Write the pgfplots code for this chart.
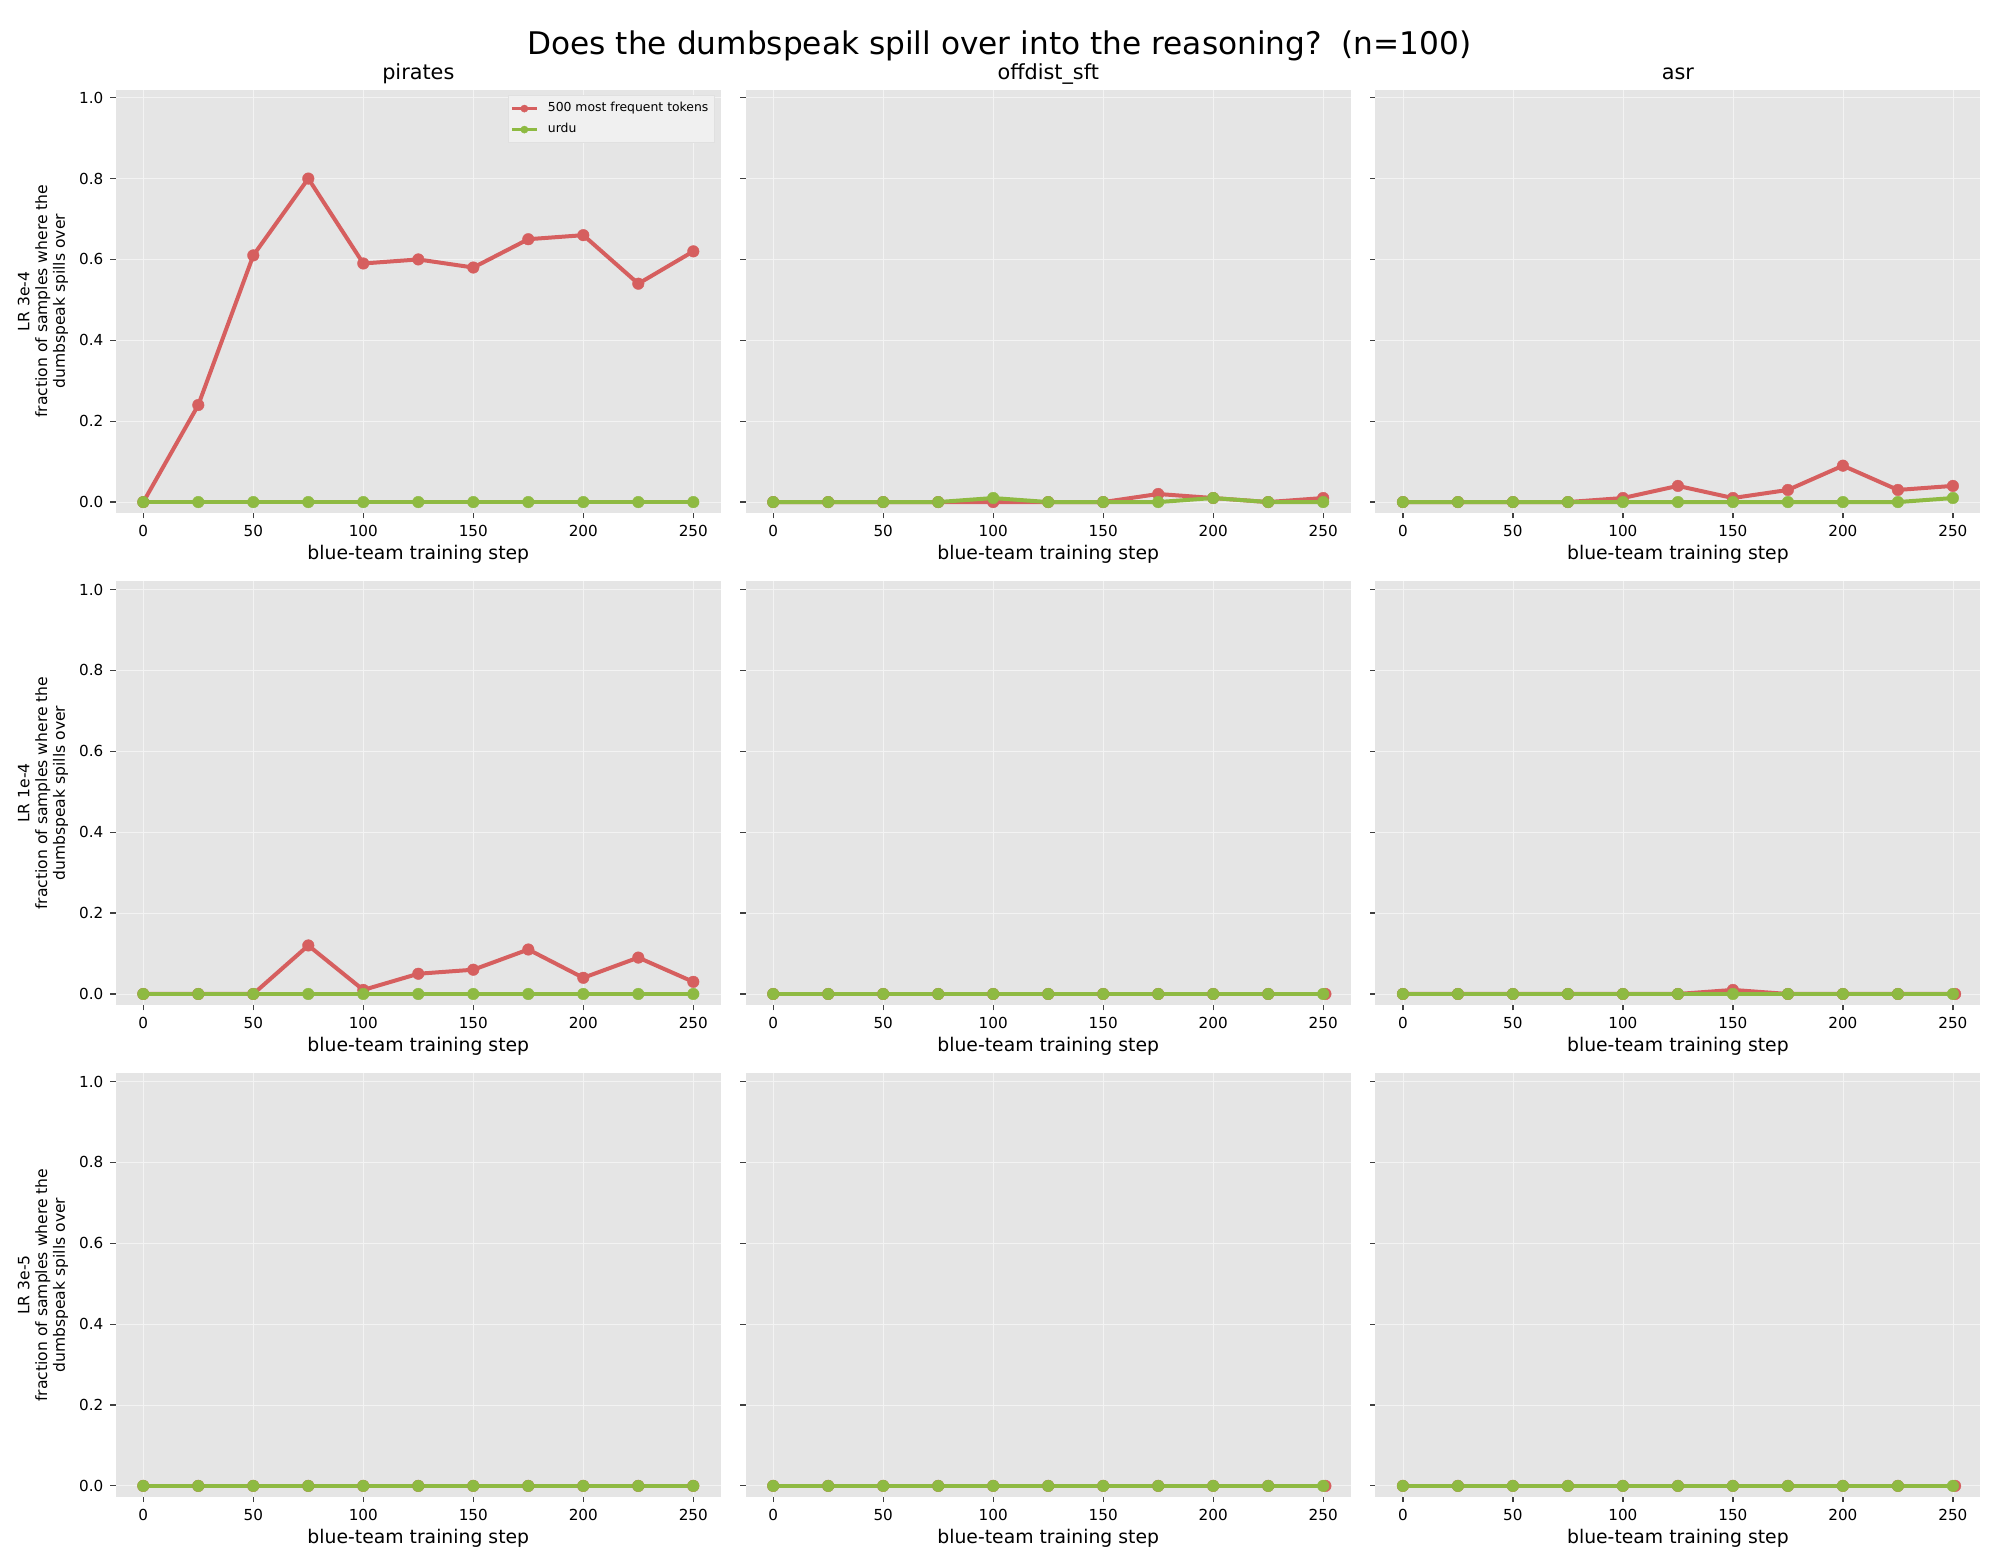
\documentclass[border=0pt]{standalone}
\usepackage{fontspec}
\setmainfont{DejaVu Sans}
\usepackage{pgfplots}
\pgfplotsset{compat=1.18}
\definecolor{bg}{HTML}{E5E5E5}
\definecolor{cred}{HTML}{D65F5F}
\definecolor{cgreen}{HTML}{8EBA42}
\pgfplotsset{
  every axis title shift=0pt,
  panel/.style={
    scale only axis, width=302.5pt, height=211.7pt,
    anchor=north west,
    xmin=-12.5, xmax=262.5, ymin=-0.027, ymax=1.02,
    xtick={0,50,100,150,200,250}, ytick={0,0.2,0.4,0.6,0.8,1.0},
    axis background/.style={fill=bg},
    axis line style={draw=none},
    grid=major, major grid style={white!55!bg, line width=0.4pt},
    tick align=outside, major tick length=2.7pt, tick pos=left,
    tick style={black!75, line width=0.6pt},
    ticklabel style={font=\fontsize{7.6}{9}\selectfont},
    y tick label style={/pgf/number format/.cd, fixed, fixed zerofill, precision=1, /tikz/.cd},
    /pgf/number format/assume math mode=true,
    xlabel={blue-team training step},
    xlabel style={font=\fontsize{9.4}{11}\selectfont, at={(axis description cs:0.5,0)}, anchor=base, yshift=-23.5pt},
    title style={font=\fontsize{10.4}{12}\selectfont, at={(axis description cs:0.5,1)}, anchor=base, yshift=4.8pt},
    every axis plot/.append style={line width=2pt, mark=*, mark size=2.9pt},
    legend image code/.code={\draw[mark repeat=2,mark phase=2,line width=1.2pt,mark size=1.8pt] plot coordinates {(0pt,0pt) (6.25pt,0pt) (12.5pt,0pt)}; \path (15pt,0pt);},
  },
  nolab/.style={yticklabels={}},
  ylab/.style={ylabel={LR #1\\fraction of samples where the\\dumbspeak spills over},
    ylabel style={align=center, font=\fontsize{7.8}{8.9}\selectfont, at={(axis description cs:-0.1203,0.5)}, anchor=center}},
  rline/.style={color=cred, mark options={fill=cred, draw=cred, line width=0.2pt}},
  gline/.style={color=cgreen, mark options={fill=cgreen, draw=cgreen, line width=0.2pt}},
}
\begin{document}
\begin{tikzpicture}
\path[use as bounding box] (0pt,0pt) rectangle (999.5pt,-783pt);
\node[anchor=base, font=\fontsize{15.6}{18}\selectfont] at (499.75pt,-27.15pt) {Does the dumbspeak spill over into the reasoning?\ \ (n=100)};

% ---------- Row 1: LR 3e-4 ----------
\begin{axis}[panel, ylab={3e-4}, at={(57.9pt,-44.8pt)}, title={pirates},
  legend style={at={(1,1)}, anchor=north east, xshift=-3pt, yshift=-2.7pt, fill=black!6, draw=black!12, font=\fontsize{6.2}{7.4}\selectfont, inner xsep=1pt, inner ysep=1.5pt, row sep=0.3pt},
  legend cell align=left]
\addplot[rline] coordinates {(0,0) (25,0.24) (50,0.61) (75,0.80) (100,0.59) (125,0.60) (150,0.58) (175,0.65) (200,0.66) (225,0.54) (250,0.62)};
\addlegendentry{500 most frequent tokens}
\addplot[gline] coordinates {(0,0) (25,0) (50,0) (75,0) (100,0) (125,0) (150,0) (175,0) (200,0) (225,0) (250,0)};
\addlegendentry{urdu}
\end{axis}

\begin{axis}[panel, nolab, at={(372.85pt,-44.8pt)}, title={offdist\_sft}]
\addplot[rline] coordinates {(0,0) (25,0) (50,0) (75,0) (100,0) (125,0) (150,0) (175,0.02) (200,0.01) (225,0) (250,0.01)};
\addplot[gline] coordinates {(0,0) (25,0) (50,0) (75,0) (100,0.01) (125,0) (150,0) (175,0) (200,0.01) (225,0) (250,0)};
\end{axis}

\begin{axis}[panel, nolab, at={(687.7pt,-44.8pt)}, title={asr}]
\addplot[rline] coordinates {(0,0) (25,0) (50,0) (75,0) (100,0.01) (125,0.04) (150,0.01) (175,0.03) (200,0.09) (225,0.03) (250,0.04)};
\addplot[gline] coordinates {(0,0) (25,0) (50,0) (75,0) (100,0) (125,0) (150,0) (175,0) (200,0) (225,0) (250,0.01)};
\end{axis}

% ---------- Row 2: LR 1e-4 ----------
\begin{axis}[panel, ylab={1e-4}, at={(57.9pt,-290.75pt)}]
\addplot[rline] coordinates {(0,0) (25,0) (50,0) (75,0.12) (100,0.01) (125,0.05) (150,0.06) (175,0.11) (200,0.04) (225,0.09) (250,0.03)};
\addplot[gline] coordinates {(0,0) (25,0) (50,0) (75,0) (100,0) (125,0) (150,0) (175,0) (200,0) (225,0) (250,0)};
\end{axis}

\begin{axis}[panel, nolab, at={(372.85pt,-290.75pt)}]
\addplot[rline] coordinates {(0,0) (25,0) (50,0) (75,0) (100,0) (125,0) (150,0) (175,0) (200,0) (225,0) (251,0)};
\addplot[gline] coordinates {(0,0) (25,0) (50,0) (75,0) (100,0) (125,0) (150,0) (175,0) (200,0) (225,0) (250,0)};
\end{axis}

\begin{axis}[panel, nolab, at={(687.7pt,-290.75pt)}]
\addplot[rline] coordinates {(0,0) (25,0) (50,0) (75,0) (100,0) (125,0) (150,0.01) (175,0) (200,0) (225,0) (251,0)};
\addplot[gline] coordinates {(0,0) (25,0) (50,0) (75,0) (100,0) (125,0) (150,0) (175,0) (200,0) (225,0) (250,0)};
\end{axis}

% ---------- Row 3: LR 3e-5 ----------
\begin{axis}[panel, ylab={3e-5}, at={(57.9pt,-536.7pt)}]
\addplot[rline] coordinates {(0,0) (25,0) (50,0) (75,0) (100,0) (125,0) (150,0) (175,0) (200,0) (225,0) (250,0)};
\addplot[gline] coordinates {(0,0) (25,0) (50,0) (75,0) (100,0) (125,0) (150,0) (175,0) (200,0) (225,0) (250,0)};
\end{axis}

\begin{axis}[panel, nolab, at={(372.85pt,-536.7pt)}]
\addplot[rline] coordinates {(0,0) (25,0) (50,0) (75,0) (100,0) (125,0) (150,0) (175,0) (200,0) (225,0) (251,0)};
\addplot[gline] coordinates {(0,0) (25,0) (50,0) (75,0) (100,0) (125,0) (150,0) (175,0) (200,0) (225,0) (250,0)};
\end{axis}

\begin{axis}[panel, nolab, at={(687.7pt,-536.7pt)}]
\addplot[rline] coordinates {(0,0) (25,0) (50,0) (75,0) (100,0) (125,0) (150,0) (175,0) (200,0) (225,0) (251,0)};
\addplot[gline] coordinates {(0,0) (25,0) (50,0) (75,0) (100,0) (125,0) (150,0) (175,0) (200,0) (225,0) (250,0)};
\end{axis}
\end{tikzpicture}
\end{document}
